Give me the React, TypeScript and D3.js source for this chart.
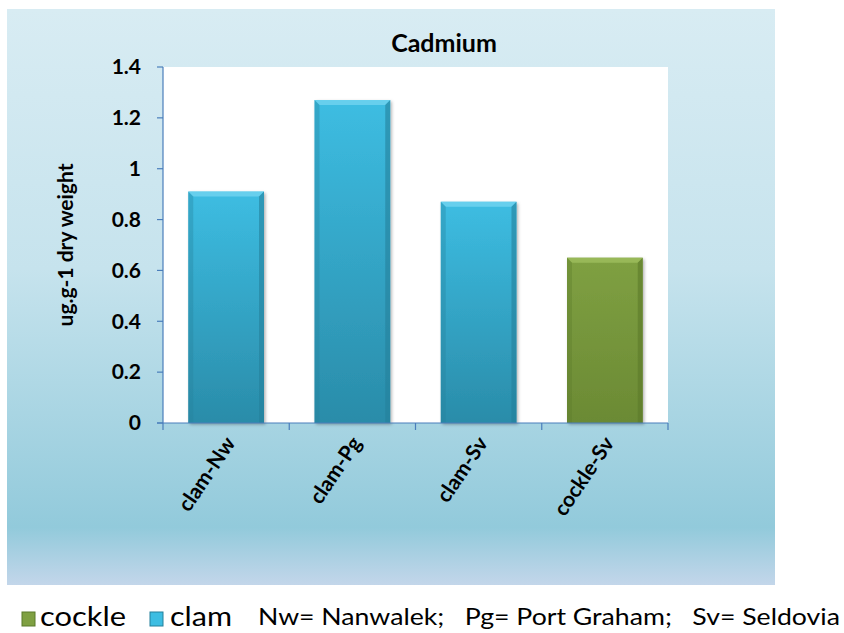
import React from "react";
import * as d3 from "d3";

const categories = ["clam-Nw", "clam-Pg", "clam-Sv", "cockle-Sv"];
const values = [0.91, 1.27, 0.87, 0.65];
const species = ["clam", "clam", "clam", "cockle"];
const yTicks = [0, 0.2, 0.4, 0.6, 0.8, 1, 1.2, 1.4];
const title = "Cadmium";
const yLabel = "ug.g-1 dry weight";
const legendItems = ["cockle", "clam"];
const note = "Nw= Nanwalek;   Pg= Port Graham;   Sv= Seldovia";

const W = 844, H = 633;
const plot = { left: 163, right: 668, top: 67, bottom: 423 };
const FONT = "Lato, 'Open Sans', sans-serif";

const palette: Record<string, { top: string; bottom: string; bevel: string; side: string }> = {
  clam: { top: "#3dbde2", bottom: "#2a8ca9", bevel: "#6fd2ee", side: "#24809b" },
  cockle: { top: "#7fa042", bottom: "#6b8a34", bevel: "#9cbc5c", side: "#5b7a2a" },
};

export default function App() {
  const x = d3.scaleBand<string>().domain(categories).range([plot.left, plot.right]).paddingInner(0.4).paddingOuter(0.2);
  const band = d3.scaleBand<string>().domain(categories).range([plot.left, plot.right]);
  const y = d3.scaleLinear().domain([0, 1.4]).range([plot.bottom, plot.top]);
  const axisColor = "#4a7ebb";
  const boundaries = [...categories.map((c) => band(c)!), plot.right];
  const bev = 5;

  return (
    <svg width={W} height={H} style={{ position: "absolute", left: 0, top: 0, background: "#fff" }}>
      <defs>
        <linearGradient id="bg" x1="0" y1="0" x2="0" y2="1">
          <stop offset="0" stopColor="#d8ecf3" />
          <stop offset="0.45" stopColor="#c6e3ed" />
          <stop offset="0.9" stopColor="#92cadb" />
          <stop offset="1" stopColor="#c3d6ea" />
        </linearGradient>
        {Object.entries(palette).map(([k, p]) => (
          <linearGradient key={k} id={`g-${k}`} x1="0" y1="0" x2="0" y2="1">
            <stop offset="0" stopColor={p.top} />
            <stop offset="1" stopColor={p.bottom} />
          </linearGradient>
        ))}
        <filter id="shadow" x="-20%" y="-20%" width="140%" height="140%">
          <feDropShadow dx="1.5" dy="1.5" stdDeviation="1.5" floodColor="#000" floodOpacity="0.3" />
        </filter>
      </defs>
      <rect x={7} y={9} width={768} height={576} fill="url(#bg)" />
      <rect x={plot.left} y={plot.top} width={plot.right - plot.left} height={plot.bottom - plot.top} fill="#fff" />
      <text x={444} y={52} textAnchor="middle" fontFamily={FONT} fontWeight="bold" fontSize={25} fill="#000">{title}</text>

      {categories.map((c, i) => {
        const x0 = x(c)!, w = x.bandwidth(), y0 = y(values[i]), y1 = y(0);
        const p = palette[species[i]];
        return (
          <g key={c}>
            <rect x={x0} y={y0} width={w} height={y1 - y0} fill={`url(#g-${species[i]})`} filter="url(#shadow)" />
            <polygon points={`${x0},${y0} ${x0 + w},${y0} ${x0 + w - bev},${y0 + bev} ${x0 + bev},${y0 + bev}`} fill={p.bevel} opacity={0.85} />
            <polygon points={`${x0},${y0} ${x0 + bev},${y0 + bev} ${x0 + bev},${y1} ${x0},${y1}`} fill={p.side} opacity={0.35} />
            <polygon points={`${x0 + w},${y0} ${x0 + w - bev},${y0 + bev} ${x0 + w - bev},${y1} ${x0 + w},${y1}`} fill={p.side} opacity={0.6} />
          </g>
        );
      })}

      <line x1={plot.left} x2={plot.left} y1={plot.top} y2={plot.bottom} stroke={axisColor} strokeWidth={1.2} />
      {yTicks.map((t) => (
        <g key={t}>
          <line x1={plot.left - 6} x2={plot.left} y1={y(t)} y2={y(t)} stroke={axisColor} strokeWidth={1.2} />
          <text x={141} y={y(t)} dy="0.35em" textAnchor="end" fontFamily={FONT} fontWeight="bold" fontSize={21} fill="#000">{String(t)}</text>
        </g>
      ))}
      <line x1={plot.left - 6} x2={plot.right} y1={plot.bottom} y2={plot.bottom} stroke={axisColor} strokeWidth={1.2} />
      {boundaries.map((b, i) => (
        <line key={i} x1={b} x2={b} y1={plot.bottom} y2={plot.bottom + 7} stroke={axisColor} strokeWidth={1.2} />
      ))}
      {categories.map((c) => {
        const cx = band(c)! + band.bandwidth() / 2 + 4;
        return (
          <text key={c} transform={`translate(${cx},${plot.bottom + 16}) rotate(-56)`} textAnchor="end" dy="0.35em" fontFamily={FONT} fontWeight="bold" fontSize={21} fill="#000">{c}</text>
        );
      })}
      <text transform={`translate(73,245) rotate(-90)`} textAnchor="middle" fontFamily={FONT} fontWeight="bold" fontSize={21} fill="#000">{yLabel}</text>

      <g>
        <rect x={22} y={612} width={13} height={14} fill={palette.cockle.top} stroke={palette.cockle.side} strokeWidth={1} />
        <text x={40} y={617} dy="0.35em" fontFamily={FONT} fontSize={26} fill="#000" textLength={86} lengthAdjust="spacingAndGlyphs">{legendItems[0]}</text>
        <rect x={150} y={612} width={13} height={14} fill={palette.clam.top} stroke={palette.clam.side} strokeWidth={1} />
        <text x={170} y={617} dy="0.35em" fontFamily={FONT} fontSize={26} fill="#000" textLength={62} lengthAdjust="spacingAndGlyphs">{legendItems[1]}</text>
        <text x={258} y={617} dy="0.35em" fontFamily={FONT} fontSize={24} fill="#000" style={{ whiteSpace: "pre" }} textLength={582} lengthAdjust="spacingAndGlyphs">{note}</text>
      </g>
    </svg>
  );
}
